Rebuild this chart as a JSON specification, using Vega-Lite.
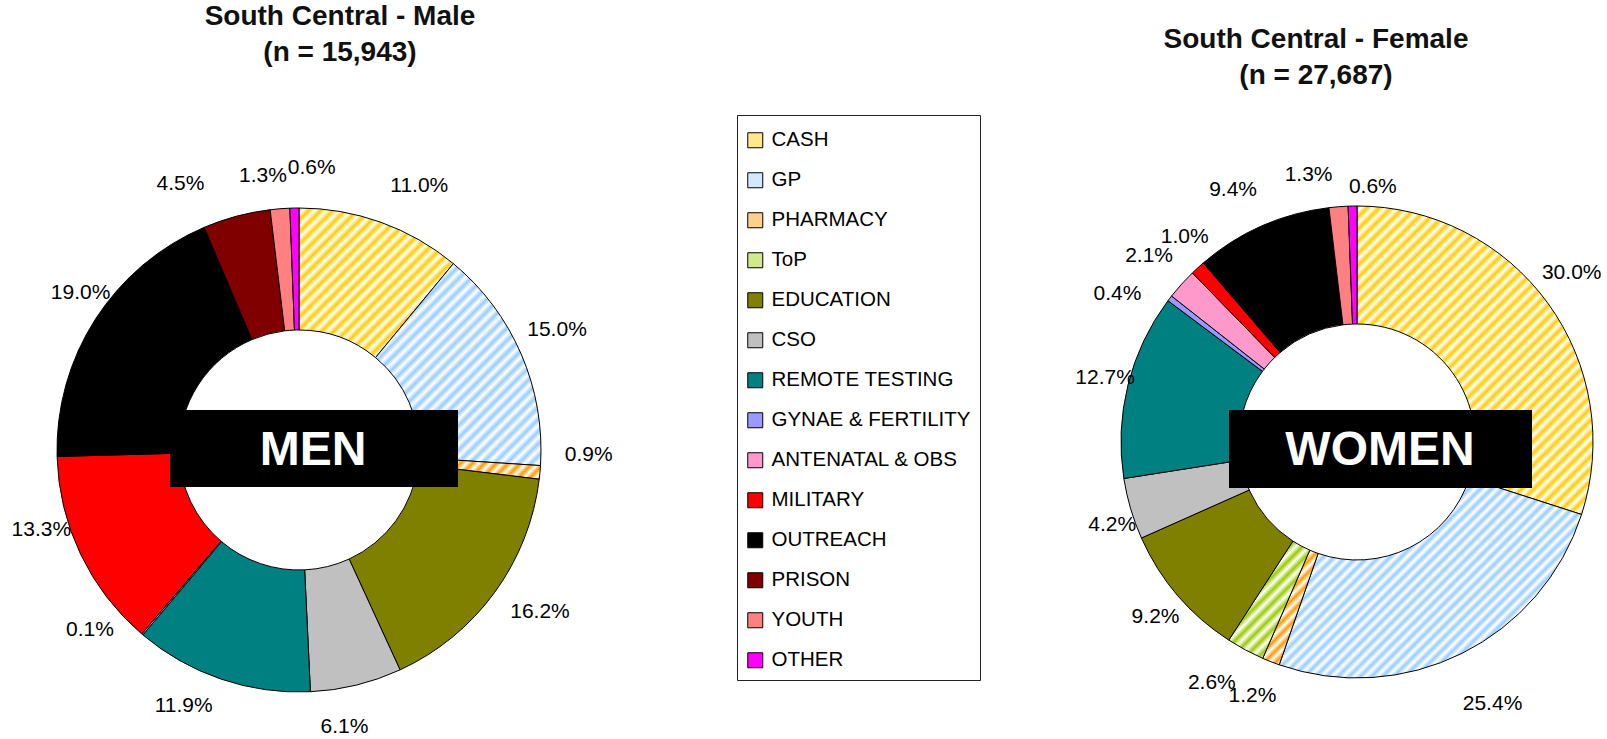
{
  "$schema": "https://vega.github.io/schema/vega-lite/v6.json",
  "width": 1607,
  "height": 739,
  "padding": 0,
  "autosize": "none",
  "background": "white",
  "config": {"view": {"stroke": null}, "font": "Liberation Sans"},
  "datasets": {
    "slices": [
      {"sex": "Male", "cat": "CASH", "order": 1, "share": 0.110},
      {"sex": "Male", "cat": "GP", "order": 2, "share": 0.150},
      {"sex": "Male", "cat": "PHARMACY", "order": 3, "share": 0.009},
      {"sex": "Male", "cat": "EDUCATION", "order": 5, "share": 0.162},
      {"sex": "Male", "cat": "CSO", "order": 6, "share": 0.061},
      {"sex": "Male", "cat": "REMOTE TESTING", "order": 7, "share": 0.119},
      {"sex": "Male", "cat": "GYNAE & FERTILITY", "order": 8, "share": 0.001},
      {"sex": "Male", "cat": "MILITARY", "order": 10, "share": 0.133},
      {"sex": "Male", "cat": "OUTREACH", "order": 11, "share": 0.190},
      {"sex": "Male", "cat": "PRISON", "order": 12, "share": 0.045},
      {"sex": "Male", "cat": "YOUTH", "order": 13, "share": 0.013},
      {"sex": "Male", "cat": "OTHER", "order": 14, "share": 0.006},
      {"sex": "Female", "cat": "CASH", "order": 1, "share": 0.300},
      {"sex": "Female", "cat": "GP", "order": 2, "share": 0.254},
      {"sex": "Female", "cat": "PHARMACY", "order": 3, "share": 0.012},
      {"sex": "Female", "cat": "ToP", "order": 4, "share": 0.026},
      {"sex": "Female", "cat": "EDUCATION", "order": 5, "share": 0.092},
      {"sex": "Female", "cat": "CSO", "order": 6, "share": 0.042},
      {"sex": "Female", "cat": "REMOTE TESTING", "order": 7, "share": 0.127},
      {"sex": "Female", "cat": "GYNAE & FERTILITY", "order": 8, "share": 0.004},
      {"sex": "Female", "cat": "ANTENATAL & OBS", "order": 9, "share": 0.021},
      {"sex": "Female", "cat": "MILITARY", "order": 10, "share": 0.010},
      {"sex": "Female", "cat": "OUTREACH", "order": 11, "share": 0.094},
      {"sex": "Female", "cat": "YOUTH", "order": 13, "share": 0.013},
      {"sex": "Female", "cat": "OTHER", "order": 14, "share": 0.006}
    ],
    "panels": [
      {"sex": "Male", "title": ["South Central - Male", "(n = 15,943)"], "box": "MEN"},
      {"sex": "Female", "title": ["South Central - Female", "(n = 27,687)"], "box": "WOMEN"}
    ]
  },
  "encoding": {
    "x": {"field": "sex", "type": "nominal", "scale": {"type": "point", "padding": 0, "domain": ["Male", "Female"], "range": [299, 1357]}, "axis": null},
    "y": {"field": "sex", "type": "nominal", "scale": {"type": "point", "padding": 0, "domain": ["Male", "Female"], "range": [450, 442]}, "axis": null}
  },
  "resolve": {"scale": {"theta": "independent"}},
  "layer": [
    {
      "data": {"name": "slices"},
      "transform": [{"filter": "datum.sex === 'Male'"}],
      "mark": {"type": "arc", "outerRadius": 242, "innerRadius": 120, "stroke": "black", "strokeWidth": 1},
      "encoding": {
        "theta": {"field": "share", "type": "quantitative", "stack": true},
        "order": {"field": "order", "type": "quantitative"},
        "color": {
          "condition": [
            {"test": "datum.cat === 'CASH'", "value": {"gradient": "linear", "x1": 0, "y1": 0, "x2": 1.015, "y2": 0.984, "stops": [
              {"offset": 0, "color": "#FFCC00"}, {"offset": 0.02, "color": "#FFFFFF"}, {"offset": 0.04, "color": "#FFCC00"}, {"offset": 0.06, "color": "#FFFFFF"}, {"offset": 0.08, "color": "#FFCC00"}, {"offset": 0.1, "color": "#FFFFFF"},
              {"offset": 0.12, "color": "#FFCC00"}, {"offset": 0.14, "color": "#FFFFFF"}, {"offset": 0.16, "color": "#FFCC00"}, {"offset": 0.18, "color": "#FFFFFF"}, {"offset": 0.2, "color": "#FFCC00"}, {"offset": 0.22, "color": "#FFFFFF"},
              {"offset": 0.24, "color": "#FFCC00"}, {"offset": 0.26, "color": "#FFFFFF"}, {"offset": 0.28, "color": "#FFCC00"}, {"offset": 0.3, "color": "#FFFFFF"}, {"offset": 0.32, "color": "#FFCC00"}, {"offset": 0.34, "color": "#FFFFFF"},
              {"offset": 0.36, "color": "#FFCC00"}, {"offset": 0.38, "color": "#FFFFFF"}, {"offset": 0.4, "color": "#FFCC00"}, {"offset": 0.42, "color": "#FFFFFF"}, {"offset": 0.44, "color": "#FFCC00"}, {"offset": 0.46, "color": "#FFFFFF"},
              {"offset": 0.48, "color": "#FFCC00"}, {"offset": 0.5, "color": "#FFFFFF"}, {"offset": 0.52, "color": "#FFCC00"}, {"offset": 0.54, "color": "#FFFFFF"}, {"offset": 0.56, "color": "#FFCC00"}, {"offset": 0.58, "color": "#FFFFFF"},
              {"offset": 0.6, "color": "#FFCC00"}, {"offset": 0.62, "color": "#FFFFFF"}, {"offset": 0.64, "color": "#FFCC00"}, {"offset": 0.66, "color": "#FFFFFF"}, {"offset": 0.68, "color": "#FFCC00"}, {"offset": 0.7, "color": "#FFFFFF"},
              {"offset": 0.72, "color": "#FFCC00"}, {"offset": 0.74, "color": "#FFFFFF"}, {"offset": 0.76, "color": "#FFCC00"}, {"offset": 0.78, "color": "#FFFFFF"}, {"offset": 0.8, "color": "#FFCC00"}, {"offset": 0.82, "color": "#FFFFFF"},
              {"offset": 0.84, "color": "#FFCC00"}, {"offset": 0.86, "color": "#FFFFFF"}, {"offset": 0.88, "color": "#FFCC00"}, {"offset": 0.9, "color": "#FFFFFF"}, {"offset": 0.92, "color": "#FFCC00"}, {"offset": 0.94, "color": "#FFFFFF"},
              {"offset": 0.96, "color": "#FFCC00"}, {"offset": 0.98, "color": "#FFFFFF"}, {"offset": 1, "color": "#FFCC00"}]}},
            {"test": "datum.cat === 'GP'", "value": {"gradient": "linear", "x1": 0, "y1": 0, "x2": 0.893, "y2": 1.088, "stops": [
              {"offset": 0, "color": "#99CCFF"}, {"offset": 0.0167, "color": "#FFFFFF"}, {"offset": 0.0333, "color": "#99CCFF"}, {"offset": 0.05, "color": "#FFFFFF"}, {"offset": 0.0667, "color": "#99CCFF"}, {"offset": 0.0833, "color": "#FFFFFF"},
              {"offset": 0.1, "color": "#99CCFF"}, {"offset": 0.1167, "color": "#FFFFFF"}, {"offset": 0.1333, "color": "#99CCFF"}, {"offset": 0.15, "color": "#FFFFFF"}, {"offset": 0.1667, "color": "#99CCFF"}, {"offset": 0.1833, "color": "#FFFFFF"},
              {"offset": 0.2, "color": "#99CCFF"}, {"offset": 0.2167, "color": "#FFFFFF"}, {"offset": 0.2333, "color": "#99CCFF"}, {"offset": 0.25, "color": "#FFFFFF"}, {"offset": 0.2667, "color": "#99CCFF"}, {"offset": 0.2833, "color": "#FFFFFF"},
              {"offset": 0.3, "color": "#99CCFF"}, {"offset": 0.3167, "color": "#FFFFFF"}, {"offset": 0.3333, "color": "#99CCFF"}, {"offset": 0.35, "color": "#FFFFFF"}, {"offset": 0.3667, "color": "#99CCFF"}, {"offset": 0.3833, "color": "#FFFFFF"},
              {"offset": 0.4, "color": "#99CCFF"}, {"offset": 0.4167, "color": "#FFFFFF"}, {"offset": 0.4333, "color": "#99CCFF"}, {"offset": 0.45, "color": "#FFFFFF"}, {"offset": 0.4667, "color": "#99CCFF"}, {"offset": 0.4833, "color": "#FFFFFF"},
              {"offset": 0.5, "color": "#99CCFF"}, {"offset": 0.5167, "color": "#FFFFFF"}, {"offset": 0.5333, "color": "#99CCFF"}, {"offset": 0.55, "color": "#FFFFFF"}, {"offset": 0.5667, "color": "#99CCFF"}, {"offset": 0.5833, "color": "#FFFFFF"},
              {"offset": 0.6, "color": "#99CCFF"}, {"offset": 0.6167, "color": "#FFFFFF"}, {"offset": 0.6333, "color": "#99CCFF"}, {"offset": 0.65, "color": "#FFFFFF"}, {"offset": 0.6667, "color": "#99CCFF"}, {"offset": 0.6833, "color": "#FFFFFF"},
              {"offset": 0.7, "color": "#99CCFF"}, {"offset": 0.7167, "color": "#FFFFFF"}, {"offset": 0.7333, "color": "#99CCFF"}, {"offset": 0.75, "color": "#FFFFFF"}, {"offset": 0.7667, "color": "#99CCFF"}, {"offset": 0.7833, "color": "#FFFFFF"},
              {"offset": 0.8, "color": "#99CCFF"}, {"offset": 0.8167, "color": "#FFFFFF"}, {"offset": 0.8333, "color": "#99CCFF"}, {"offset": 0.85, "color": "#FFFFFF"}, {"offset": 0.8667, "color": "#99CCFF"}, {"offset": 0.8833, "color": "#FFFFFF"},
              {"offset": 0.9, "color": "#99CCFF"}, {"offset": 0.9167, "color": "#FFFFFF"}, {"offset": 0.9333, "color": "#99CCFF"}, {"offset": 0.95, "color": "#FFFFFF"}, {"offset": 0.9667, "color": "#99CCFF"}, {"offset": 0.9833, "color": "#FFFFFF"},
              {"offset": 1, "color": "#99CCFF"}]}},
            {"test": "datum.cat === 'PHARMACY'", "value": {"gradient": "linear", "x1": 0, "y1": 0, "x2": 1.14, "y2": 0.198, "stops": [
              {"offset": 0, "color": "#FF9900"}, {"offset": 0.0417, "color": "#FFFFFF"}, {"offset": 0.0833, "color": "#FF9900"}, {"offset": 0.125, "color": "#FFFFFF"}, {"offset": 0.1667, "color": "#FF9900"}, {"offset": 0.2083, "color": "#FFFFFF"},
              {"offset": 0.25, "color": "#FF9900"}, {"offset": 0.2917, "color": "#FFFFFF"}, {"offset": 0.3333, "color": "#FF9900"}, {"offset": 0.375, "color": "#FFFFFF"}, {"offset": 0.4167, "color": "#FF9900"}, {"offset": 0.4583, "color": "#FFFFFF"},
              {"offset": 0.5, "color": "#FF9900"}, {"offset": 0.5417, "color": "#FFFFFF"}, {"offset": 0.5833, "color": "#FF9900"}, {"offset": 0.625, "color": "#FFFFFF"}, {"offset": 0.6667, "color": "#FF9900"}, {"offset": 0.7083, "color": "#FFFFFF"},
              {"offset": 0.75, "color": "#FF9900"}, {"offset": 0.7917, "color": "#FFFFFF"}, {"offset": 0.8333, "color": "#FF9900"}, {"offset": 0.875, "color": "#FFFFFF"}, {"offset": 0.9167, "color": "#FF9900"}, {"offset": 0.9583, "color": "#FFFFFF"},
              {"offset": 1, "color": "#FF9900"}]}}
          ],
          "field": "cat", "type": "nominal",
          "scale": {
            "domain": ["CASH", "GP", "PHARMACY", "ToP", "EDUCATION", "CSO", "REMOTE TESTING", "GYNAE & FERTILITY", "ANTENATAL & OBS", "MILITARY", "OUTREACH", "PRISON", "YOUTH", "OTHER"],
            "range": ["#FFE88C", "#D1E8FF", "#FFD18C", "#D1E88C", "#808000", "#C0C0C0", "#008080", "#9999FF", "#FF99CC", "#FF0000", "#000000", "#800000", "#FF8080", "#FF00FF"]
          },
          "legend": {
            "orient": "none", "legendX": 737, "legendY": 115, "title": " ", "titleFontSize": 1, "titlePadding": 5,
            "symbolType": "square", "symbolSize": 225, "symbolStrokeColor": "black", "symbolStrokeWidth": 1, "symbolOpacity": 1, "symbolOffset": -1,
            "labelFontSize": 20.5, "labelFont": "Liberation Sans", "labelColor": "black", "labelOffset": 6, "labelLimit": 300,
            "rowPadding": 19, "padding": 9, "strokeColor": "#222", "fillColor": "white"
          }
        }
      }
    },
    {
      "data": {"name": "slices"},
      "transform": [{"filter": "datum.sex === 'Male'"}],
      "mark": {"type": "text", "radius": 281, "fontSize": 21, "font": "Liberation Sans", "color": "black",
        "dx": {"expr": "[25, 0, 10, 0, 14, -21, -25, -27, 0, -4, 18, -46, -14, 18][datum.order - 1]"},
        "dy": {"expr": "[0, -9, -21, 0, -4, 4, -10, -34, 0, -41, -5, 5, 6, -1][datum.order - 1]"}},
      "encoding": {
        "theta": {"field": "share", "type": "quantitative", "stack": true},
        "order": {"field": "order", "type": "quantitative"},
        "text": {"field": "share", "type": "quantitative", "format": ".1%"}
      }
    },
    {
      "data": {"name": "slices"},
      "transform": [{"filter": "datum.sex === 'Female'"}],
      "mark": {"type": "arc", "outerRadius": 236, "innerRadius": 118, "stroke": "black", "strokeWidth": 1},
      "encoding": {
        "theta": {"field": "share", "type": "quantitative", "stack": true},
        "order": {"field": "order", "type": "quantitative"},
        "color": {
          "condition": [
            {"test": "datum.cat === 'CASH'", "value": {"gradient": "linear", "x1": 0, "y1": 0, "x2": 0.851, "y2": 1.114, "stops": [
              {"offset": 0, "color": "#FFCC00"}, {"offset": 0.0111, "color": "#FFFFFF"}, {"offset": 0.0222, "color": "#FFCC00"}, {"offset": 0.0333, "color": "#FFFFFF"}, {"offset": 0.0444, "color": "#FFCC00"}, {"offset": 0.0556, "color": "#FFFFFF"},
              {"offset": 0.0667, "color": "#FFCC00"}, {"offset": 0.0778, "color": "#FFFFFF"}, {"offset": 0.0889, "color": "#FFCC00"}, {"offset": 0.1, "color": "#FFFFFF"}, {"offset": 0.1111, "color": "#FFCC00"}, {"offset": 0.1222, "color": "#FFFFFF"},
              {"offset": 0.1333, "color": "#FFCC00"}, {"offset": 0.1444, "color": "#FFFFFF"}, {"offset": 0.1556, "color": "#FFCC00"}, {"offset": 0.1667, "color": "#FFFFFF"}, {"offset": 0.1778, "color": "#FFCC00"}, {"offset": 0.1889, "color": "#FFFFFF"},
              {"offset": 0.2, "color": "#FFCC00"}, {"offset": 0.2111, "color": "#FFFFFF"}, {"offset": 0.2222, "color": "#FFCC00"}, {"offset": 0.2333, "color": "#FFFFFF"}, {"offset": 0.2444, "color": "#FFCC00"}, {"offset": 0.2556, "color": "#FFFFFF"},
              {"offset": 0.2667, "color": "#FFCC00"}, {"offset": 0.2778, "color": "#FFFFFF"}, {"offset": 0.2889, "color": "#FFCC00"}, {"offset": 0.3, "color": "#FFFFFF"}, {"offset": 0.3111, "color": "#FFCC00"}, {"offset": 0.3222, "color": "#FFFFFF"},
              {"offset": 0.3333, "color": "#FFCC00"}, {"offset": 0.3444, "color": "#FFFFFF"}, {"offset": 0.3556, "color": "#FFCC00"}, {"offset": 0.3667, "color": "#FFFFFF"}, {"offset": 0.3778, "color": "#FFCC00"}, {"offset": 0.3889, "color": "#FFFFFF"},
              {"offset": 0.4, "color": "#FFCC00"}, {"offset": 0.4111, "color": "#FFFFFF"}, {"offset": 0.4222, "color": "#FFCC00"}, {"offset": 0.4333, "color": "#FFFFFF"}, {"offset": 0.4444, "color": "#FFCC00"}, {"offset": 0.4556, "color": "#FFFFFF"},
              {"offset": 0.4667, "color": "#FFCC00"}, {"offset": 0.4778, "color": "#FFFFFF"}, {"offset": 0.4889, "color": "#FFCC00"}, {"offset": 0.5, "color": "#FFFFFF"}, {"offset": 0.5111, "color": "#FFCC00"}, {"offset": 0.5222, "color": "#FFFFFF"},
              {"offset": 0.5333, "color": "#FFCC00"}, {"offset": 0.5444, "color": "#FFFFFF"}, {"offset": 0.5556, "color": "#FFCC00"}, {"offset": 0.5667, "color": "#FFFFFF"}, {"offset": 0.5778, "color": "#FFCC00"}, {"offset": 0.5889, "color": "#FFFFFF"},
              {"offset": 0.6, "color": "#FFCC00"}, {"offset": 0.6111, "color": "#FFFFFF"}, {"offset": 0.6222, "color": "#FFCC00"}, {"offset": 0.6333, "color": "#FFFFFF"}, {"offset": 0.6444, "color": "#FFCC00"}, {"offset": 0.6556, "color": "#FFFFFF"},
              {"offset": 0.6667, "color": "#FFCC00"}, {"offset": 0.6778, "color": "#FFFFFF"}, {"offset": 0.6889, "color": "#FFCC00"}, {"offset": 0.7, "color": "#FFFFFF"}, {"offset": 0.7111, "color": "#FFCC00"}, {"offset": 0.7222, "color": "#FFFFFF"},
              {"offset": 0.7333, "color": "#FFCC00"}, {"offset": 0.7444, "color": "#FFFFFF"}, {"offset": 0.7556, "color": "#FFCC00"}, {"offset": 0.7667, "color": "#FFFFFF"}, {"offset": 0.7778, "color": "#FFCC00"}, {"offset": 0.7889, "color": "#FFFFFF"},
              {"offset": 0.8, "color": "#FFCC00"}, {"offset": 0.8111, "color": "#FFFFFF"}, {"offset": 0.8222, "color": "#FFCC00"}, {"offset": 0.8333, "color": "#FFFFFF"}, {"offset": 0.8444, "color": "#FFCC00"}, {"offset": 0.8556, "color": "#FFFFFF"},
              {"offset": 0.8667, "color": "#FFCC00"}, {"offset": 0.8778, "color": "#FFFFFF"}, {"offset": 0.8889, "color": "#FFCC00"}, {"offset": 0.9, "color": "#FFFFFF"}, {"offset": 0.9111, "color": "#FFCC00"}, {"offset": 0.9222, "color": "#FFFFFF"},
              {"offset": 0.9333, "color": "#FFCC00"}, {"offset": 0.9444, "color": "#FFFFFF"}, {"offset": 0.9556, "color": "#FFCC00"}, {"offset": 0.9667, "color": "#FFFFFF"}, {"offset": 0.9778, "color": "#FFCC00"}, {"offset": 0.9889, "color": "#FFFFFF"},
              {"offset": 1, "color": "#FFCC00"}]}},
            {"test": "datum.cat === 'GP'", "value": {"gradient": "linear", "x1": 0, "y1": 0, "x2": 1.157, "y2": 0.762, "stops": [
              {"offset": 0, "color": "#99CCFF"}, {"offset": 0.0111, "color": "#FFFFFF"}, {"offset": 0.0222, "color": "#99CCFF"}, {"offset": 0.0333, "color": "#FFFFFF"}, {"offset": 0.0444, "color": "#99CCFF"}, {"offset": 0.0556, "color": "#FFFFFF"},
              {"offset": 0.0667, "color": "#99CCFF"}, {"offset": 0.0778, "color": "#FFFFFF"}, {"offset": 0.0889, "color": "#99CCFF"}, {"offset": 0.1, "color": "#FFFFFF"}, {"offset": 0.1111, "color": "#99CCFF"}, {"offset": 0.1222, "color": "#FFFFFF"},
              {"offset": 0.1333, "color": "#99CCFF"}, {"offset": 0.1444, "color": "#FFFFFF"}, {"offset": 0.1556, "color": "#99CCFF"}, {"offset": 0.1667, "color": "#FFFFFF"}, {"offset": 0.1778, "color": "#99CCFF"}, {"offset": 0.1889, "color": "#FFFFFF"},
              {"offset": 0.2, "color": "#99CCFF"}, {"offset": 0.2111, "color": "#FFFFFF"}, {"offset": 0.2222, "color": "#99CCFF"}, {"offset": 0.2333, "color": "#FFFFFF"}, {"offset": 0.2444, "color": "#99CCFF"}, {"offset": 0.2556, "color": "#FFFFFF"},
              {"offset": 0.2667, "color": "#99CCFF"}, {"offset": 0.2778, "color": "#FFFFFF"}, {"offset": 0.2889, "color": "#99CCFF"}, {"offset": 0.3, "color": "#FFFFFF"}, {"offset": 0.3111, "color": "#99CCFF"}, {"offset": 0.3222, "color": "#FFFFFF"},
              {"offset": 0.3333, "color": "#99CCFF"}, {"offset": 0.3444, "color": "#FFFFFF"}, {"offset": 0.3556, "color": "#99CCFF"}, {"offset": 0.3667, "color": "#FFFFFF"}, {"offset": 0.3778, "color": "#99CCFF"}, {"offset": 0.3889, "color": "#FFFFFF"},
              {"offset": 0.4, "color": "#99CCFF"}, {"offset": 0.4111, "color": "#FFFFFF"}, {"offset": 0.4222, "color": "#99CCFF"}, {"offset": 0.4333, "color": "#FFFFFF"}, {"offset": 0.4444, "color": "#99CCFF"}, {"offset": 0.4556, "color": "#FFFFFF"},
              {"offset": 0.4667, "color": "#99CCFF"}, {"offset": 0.4778, "color": "#FFFFFF"}, {"offset": 0.4889, "color": "#99CCFF"}, {"offset": 0.5, "color": "#FFFFFF"}, {"offset": 0.5111, "color": "#99CCFF"}, {"offset": 0.5222, "color": "#FFFFFF"},
              {"offset": 0.5333, "color": "#99CCFF"}, {"offset": 0.5444, "color": "#FFFFFF"}, {"offset": 0.5556, "color": "#99CCFF"}, {"offset": 0.5667, "color": "#FFFFFF"}, {"offset": 0.5778, "color": "#99CCFF"}, {"offset": 0.5889, "color": "#FFFFFF"},
              {"offset": 0.6, "color": "#99CCFF"}, {"offset": 0.6111, "color": "#FFFFFF"}, {"offset": 0.6222, "color": "#99CCFF"}, {"offset": 0.6333, "color": "#FFFFFF"}, {"offset": 0.6444, "color": "#99CCFF"}, {"offset": 0.6556, "color": "#FFFFFF"},
              {"offset": 0.6667, "color": "#99CCFF"}, {"offset": 0.6778, "color": "#FFFFFF"}, {"offset": 0.6889, "color": "#99CCFF"}, {"offset": 0.7, "color": "#FFFFFF"}, {"offset": 0.7111, "color": "#99CCFF"}, {"offset": 0.7222, "color": "#FFFFFF"},
              {"offset": 0.7333, "color": "#99CCFF"}, {"offset": 0.7444, "color": "#FFFFFF"}, {"offset": 0.7556, "color": "#99CCFF"}, {"offset": 0.7667, "color": "#FFFFFF"}, {"offset": 0.7778, "color": "#99CCFF"}, {"offset": 0.7889, "color": "#FFFFFF"},
              {"offset": 0.8, "color": "#99CCFF"}, {"offset": 0.8111, "color": "#FFFFFF"}, {"offset": 0.8222, "color": "#99CCFF"}, {"offset": 0.8333, "color": "#FFFFFF"}, {"offset": 0.8444, "color": "#99CCFF"}, {"offset": 0.8556, "color": "#FFFFFF"},
              {"offset": 0.8667, "color": "#99CCFF"}, {"offset": 0.8778, "color": "#FFFFFF"}, {"offset": 0.8889, "color": "#99CCFF"}, {"offset": 0.9, "color": "#FFFFFF"}, {"offset": 0.9111, "color": "#99CCFF"}, {"offset": 0.9222, "color": "#FFFFFF"},
              {"offset": 0.9333, "color": "#99CCFF"}, {"offset": 0.9444, "color": "#FFFFFF"}, {"offset": 0.9556, "color": "#99CCFF"}, {"offset": 0.9667, "color": "#FFFFFF"}, {"offset": 0.9778, "color": "#99CCFF"}, {"offset": 0.9889, "color": "#FFFFFF"},
              {"offset": 1, "color": "#99CCFF"}]}},
            {"test": "datum.cat === 'PHARMACY'", "value": {"gradient": "linear", "x1": 0, "y1": 0, "x2": 0.586, "y2": 1.202, "stops": [
              {"offset": 0, "color": "#FF9900"}, {"offset": 0.0333, "color": "#FFFFFF"}, {"offset": 0.0667, "color": "#FF9900"}, {"offset": 0.1, "color": "#FFFFFF"}, {"offset": 0.1333, "color": "#FF9900"}, {"offset": 0.1667, "color": "#FFFFFF"},
              {"offset": 0.2, "color": "#FF9900"}, {"offset": 0.2333, "color": "#FFFFFF"}, {"offset": 0.2667, "color": "#FF9900"}, {"offset": 0.3, "color": "#FFFFFF"}, {"offset": 0.3333, "color": "#FF9900"}, {"offset": 0.3667, "color": "#FFFFFF"},
              {"offset": 0.4, "color": "#FF9900"}, {"offset": 0.4333, "color": "#FFFFFF"}, {"offset": 0.4667, "color": "#FF9900"}, {"offset": 0.5, "color": "#FFFFFF"}, {"offset": 0.5333, "color": "#FF9900"}, {"offset": 0.5667, "color": "#FFFFFF"},
              {"offset": 0.6, "color": "#FF9900"}, {"offset": 0.6333, "color": "#FFFFFF"}, {"offset": 0.6667, "color": "#FF9900"}, {"offset": 0.7, "color": "#FFFFFF"}, {"offset": 0.7333, "color": "#FF9900"}, {"offset": 0.7667, "color": "#FFFFFF"},
              {"offset": 0.8, "color": "#FF9900"}, {"offset": 0.8333, "color": "#FFFFFF"}, {"offset": 0.8667, "color": "#FF9900"}, {"offset": 0.9, "color": "#FFFFFF"}, {"offset": 0.9333, "color": "#FF9900"}, {"offset": 0.9667, "color": "#FFFFFF"},
              {"offset": 1, "color": "#FF9900"}]}},
            {"test": "datum.cat === 'ToP'", "value": {"gradient": "linear", "x1": 0, "y1": 0, "x2": 0.794, "y2": 1.143, "stops": [
              {"offset": 0, "color": "#99CC00"}, {"offset": 0.0333, "color": "#FFFFFF"}, {"offset": 0.0667, "color": "#99CC00"}, {"offset": 0.1, "color": "#FFFFFF"}, {"offset": 0.1333, "color": "#99CC00"}, {"offset": 0.1667, "color": "#FFFFFF"},
              {"offset": 0.2, "color": "#99CC00"}, {"offset": 0.2333, "color": "#FFFFFF"}, {"offset": 0.2667, "color": "#99CC00"}, {"offset": 0.3, "color": "#FFFFFF"}, {"offset": 0.3333, "color": "#99CC00"}, {"offset": 0.3667, "color": "#FFFFFF"},
              {"offset": 0.4, "color": "#99CC00"}, {"offset": 0.4333, "color": "#FFFFFF"}, {"offset": 0.4667, "color": "#99CC00"}, {"offset": 0.5, "color": "#FFFFFF"}, {"offset": 0.5333, "color": "#99CC00"}, {"offset": 0.5667, "color": "#FFFFFF"},
              {"offset": 0.6, "color": "#99CC00"}, {"offset": 0.6333, "color": "#FFFFFF"}, {"offset": 0.6667, "color": "#99CC00"}, {"offset": 0.7, "color": "#FFFFFF"}, {"offset": 0.7333, "color": "#99CC00"}, {"offset": 0.7667, "color": "#FFFFFF"},
              {"offset": 0.8, "color": "#99CC00"}, {"offset": 0.8333, "color": "#FFFFFF"}, {"offset": 0.8667, "color": "#99CC00"}, {"offset": 0.9, "color": "#FFFFFF"}, {"offset": 0.9333, "color": "#99CC00"}, {"offset": 0.9667, "color": "#FFFFFF"},
              {"offset": 1, "color": "#99CC00"}]}}
          ],
          "field": "cat", "type": "nominal"
        }
      }
    },
    {
      "data": {"name": "slices"},
      "transform": [{"filter": "datum.sex === 'Female'"}],
      "mark": {"type": "text", "radius": 273, "fontSize": 21, "font": "Liberation Sans", "color": "black",
        "dx": {"expr": "[-6, 14, -5, -16, 6, 17, 13, -23, -5, 12, -14, 0, -27, 21][datum.order - 1]"},
        "dy": {"expr": "[-8, 18, 0, 0, -2, 6, 2, 18, -3, -4, -2, 0, 5, 18][datum.order - 1]"}},
      "encoding": {
        "theta": {"field": "share", "type": "quantitative", "stack": true},
        "order": {"field": "order", "type": "quantitative"},
        "text": {"field": "share", "type": "quantitative", "format": ".1%"}
      }
    },
    {
      "data": {"name": "panels"},
      "transform": [{"filter": "datum.sex === 'Male'"}],
      "mark": {"type": "point", "shape": "M-1,-0.2674H1V0.2674H-1Z", "size": 82944, "filled": true, "color": "black", "opacity": 1, "strokeWidth": 0, "xOffset": 15, "yOffset": -1.5}
    },
    {
      "data": {"name": "panels"},
      "transform": [{"filter": "datum.sex === 'Female'"}],
      "mark": {"type": "point", "shape": "M-1,-0.2574H1V0.2574H-1Z", "size": 91809, "filled": true, "color": "black", "opacity": 1, "strokeWidth": 0, "xOffset": 23.5, "yOffset": 7}
    },
    {
      "data": {"name": "panels"},
      "transform": [{"filter": "datum.sex === 'Male'"}],
      "mark": {"type": "text", "fontSize": 48, "fontWeight": "bold", "font": "Liberation Sans", "color": "white", "baseline": "middle", "dx": 14, "dy": 1},
      "encoding": {"text": {"field": "box"}}
    },
    {
      "data": {"name": "panels"},
      "transform": [{"filter": "datum.sex === 'Female'"}],
      "mark": {"type": "text", "fontSize": 48, "fontWeight": "bold", "font": "Liberation Sans", "color": "white", "baseline": "middle", "dx": 23, "dy": 9},
      "encoding": {"text": {"field": "box"}}
    },
    {
      "data": {"name": "panels"},
      "transform": [{"filter": "datum.sex === 'Male'"}],
      "mark": {"type": "text", "fontSize": 28, "fontWeight": "bold", "font": "Liberation Sans", "color": "#111", "baseline": "top", "lineHeight": 36, "dx": 41, "dy": -446.7},
      "encoding": {"text": {"field": "title"}}
    },
    {
      "data": {"name": "panels"},
      "transform": [{"filter": "datum.sex === 'Female'"}],
      "mark": {"type": "text", "fontSize": 28, "fontWeight": "bold", "font": "Liberation Sans", "color": "#111", "baseline": "top", "lineHeight": 36, "dx": -41, "dy": -415.7},
      "encoding": {"text": {"field": "title"}}
    }
  ]
}
